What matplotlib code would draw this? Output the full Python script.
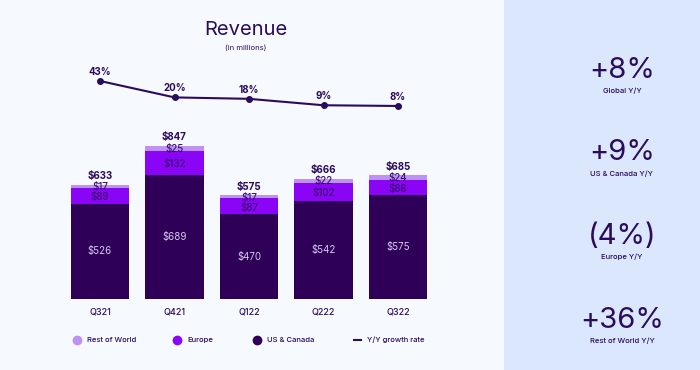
import matplotlib.pyplot as plt
import matplotlib.patches as mpatches
from matplotlib.lines import Line2D

plt.rcParams['font.family'] = ['Inter', 'DejaVu Sans']

quarters = ['Q321', 'Q421', 'Q122', 'Q222', 'Q322']
us_canada = [526, 689, 470, 542, 575]
europe = [89, 132, 87, 102, 86]
rest_of_world = [17, 25, 17, 22, 24]
totals = [633, 847, 575, 666, 685]
growth = [43, 20, 18, 9, 8]

kpi_values = ['+8%', '+9%', '(4%)', '+36%']
kpi_labels = ['Global Y/Y', 'US & Canada Y/Y', 'Europe Y/Y', 'Rest of World Y/Y']

c_us = '#2f0058'
c_eu = '#8a05f5'
c_row = '#bd92f4'
c_text = '#2a0b5c'
bg = '#f6f9fe'
panel = '#dbe7fd'

W, H = 700, 370
fig = plt.figure(figsize=(7, 3.7), dpi=100, facecolor=bg)

# right side panel
fig.patches.append(mpatches.Rectangle((504 / W, 0), 1 - 504 / W, 1, transform=fig.transFigure,
                                      facecolor=panel, edgecolor='none', zorder=0))

# main bar axes
ax_h = 234.8
ax = fig.add_axes([62.75 / W, 71 / H, 372.5 / W, ax_h / H])
ax.set_facecolor('none')
x = list(range(len(quarters)))
bw = 0.78
ax.bar(x, us_canada, width=bw, color=c_us, zorder=2)
ax.bar(x, europe, width=bw, bottom=us_canada, color=c_eu, zorder=2)
row_bottom = [a + b for a, b in zip(us_canada, europe)]
ax.bar(x, rest_of_world, width=bw, bottom=row_bottom, color=c_row, zorder=2)

for i in x:
    ax.text(i, us_canada[i] / 2, f'${us_canada[i]}', ha='center', va='center',
            color='#d8c8f2', fontsize=7)
    ax.text(i, us_canada[i] + europe[i] / 2 - 8, f'${europe[i]}', ha='center', va='center',
            color='#3a0d73', fontsize=7, fontweight='medium')
    ax.text(i, row_bottom[i] + rest_of_world[i] / 2 - 4, f'${rest_of_world[i]}', ha='center',
            va='center', color='#3a0d73', fontsize=7, fontweight='medium')
    ax.text(i, totals[i] + 20, f'${totals[i]}', ha='center', va='bottom',
            color=c_text, fontsize=7, fontweight='bold')

ax.set_xlim(-0.5, 4.5)
ax.set_ylim(0, 1300)
ax.set_xticks(x)
ax.set_xticklabels(quarters, fontsize=6.5, color=c_text, fontweight='medium')
ax.tick_params(axis='x', length=0, pad=6)
ax.set_yticks([])
for s in ax.spines.values():
    s.set_visible(False)

# growth line on twin axis
ax2 = ax.twinx()
ax2.set_ylim(-262.3, 66.5)
ax2.plot(x, growth, color=c_text, lw=1.5, marker='o', markersize=4, zorder=3)
for i in x:
    ax2.text(i, growth[i] + 6, f'{growth[i]}%', ha='center', va='bottom',
             color=c_text, fontsize=7, fontweight='bold')
ax2.set_yticks([])
for s in ax2.spines.values():
    s.set_visible(False)

# titles
fig.text(246 / W, 1 - 30 / H, 'Revenue', ha='center', va='center', fontsize=14.5, color=c_text)
fig.text(246 / W, 1 - 48 / H, '(in millions)', ha='center', va='center', fontsize=5.5, color=c_text)

# legend
leg_items = [
    (77, 'Rest of World', c_row, 'dot'),
    (177, 'Europe', c_eu, 'dot'),
    (257, 'US & Canada', c_us, 'dot'),
    (357, 'Y/Y growth rate', c_text, 'line'),
]
ly = 1 - 340 / H
for px, lab, col, kind in leg_items:
    if kind == 'dot':
        fig.lines.append(Line2D([px / W], [ly], marker='o', markersize=6, color=col,
                                transform=fig.transFigure))
    else:
        fig.lines.append(Line2D([(px - 3) / W, (px + 4) / W], [ly, ly], lw=1.5, color=col,
                                transform=fig.transFigure))
    fig.text((px + 10) / W, ly, lab, ha='left', va='center', fontsize=5.5,
             color=c_text, fontweight='medium')

# KPI panel
kpi_y = [70, 153, 236, 320]
for yy, val, lab in zip(kpi_y, kpi_values, kpi_labels):
    fig.text(622 / W, 1 - yy / H, val, ha='center', va='center', fontsize=21, color=c_text)
    fig.text(622 / W, 1 - (yy + 21) / H, lab, ha='center', va='center', fontsize=5.5,
             color=c_text, fontweight='medium')

fig.savefig('out.png', dpi=100, facecolor=bg)
